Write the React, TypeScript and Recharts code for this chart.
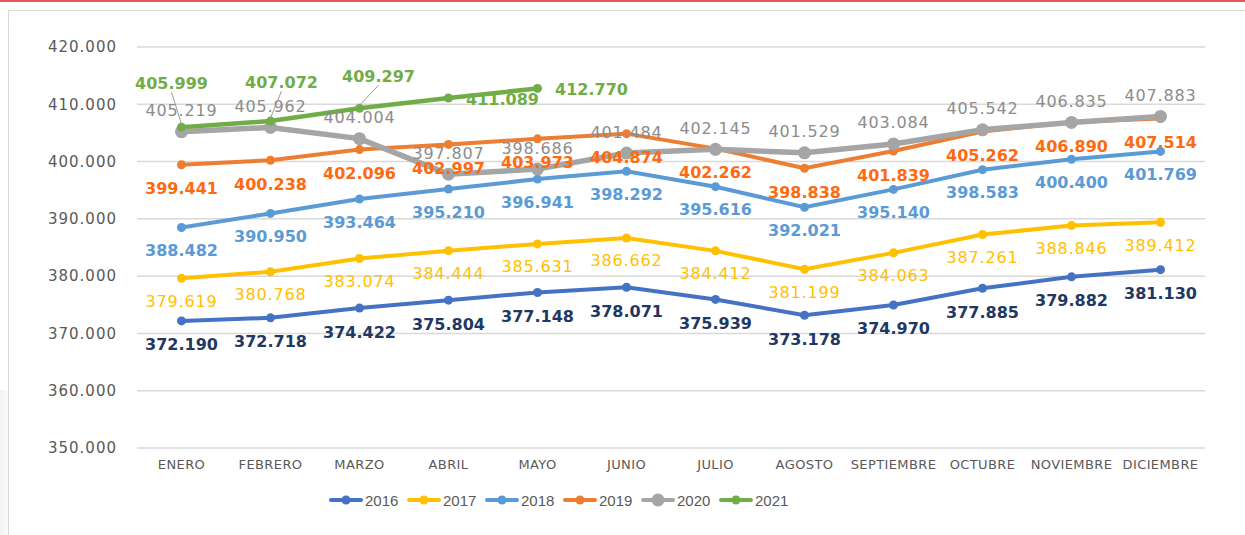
import { LineChart, Line, XAxis, YAxis, CartesianGrid, Legend, LabelList } from "recharts";

const months = [
  "ENERO", "FEBRERO", "MARZO", "ABRIL", "MAYO", "JUNIO",
  "JULIO", "AGOSTO", "SEPTIEMBRE", "OCTUBRE", "NOVIEMBRE", "DICIEMBRE",
];

const y2016 = [372190, 372718, 374422, 375804, 377148, 378071, 375939, 373178, 374970, 377885, 379882, 381130];
const y2017 = [379619, 380768, 383074, 384444, 385631, 386662, 384412, 381199, 384063, 387261, 388846, 389412];
const y2018 = [388482, 390950, 393464, 395210, 396941, 398292, 395616, 392021, 395140, 398583, 400400, 401769];
const y2019 = [399441, 400238, 402096, 402997, 403973, 404874, 402262, 398838, 401839, 405262, 406890, 407514];
const y2020 = [405219, 405962, 404004, 397807, 398686, 401484, 402145, 401529, 403084, 405542, 406835, 407883];
const y2021 = [405999, 407072, 409297, 411089, 412770];

const yTicks = [350000, 360000, 370000, 380000, 390000, 400000, 410000, 420000];

// label placement for 2021 (first three use leader lines, as in the original)
const offsets2021 = [
  { dx: -10, dy: -44, lead: true },
  { dx: 11, dy: -39, lead: true },
  { dx: 19, dy: -32, lead: true },
  { dx: 54, dy: 1, lead: false },
  { dx: 54, dy: 1, lead: false },
];

const FONT = "'DejaVu Sans', Verdana, sans-serif";

const fmt = (v: number) => Math.round(v).toString().replace(/\B(?=(\d{3})+(?!\d))/g, ".");

const series = [
  { key: "2016", values: y2016, color: "#4472C4", text: "#1F3864", bold: true, dy: 24, w: 4, r: 4.5 },
  { key: "2017", values: y2017, color: "#FFC000", text: "#FFC000", bold: false, dy: 23, w: 4, r: 4.5 },
  { key: "2018", values: y2018, color: "#5B9BD5", text: "#5B9BD5", bold: true, dy: 23, w: 4, r: 4.5 },
  { key: "2019", values: y2019, color: "#ED7D31", text: "#FF6A10", bold: true, dy: 24, w: 4, r: 4.5 },
  { key: "2020", values: y2020, color: "#A5A5A5", text: "#8C8C8C", bold: false, dy: -21, w: 5.5, r: 6.5 },
  { key: "2021", values: y2021, color: "#70AD47", text: "#70AD47", bold: true, dy: 0, w: 4.5, r: 4.5 },
];

const data = months.map((m, i) => {
  const row: Record<string, any> = { month: m };
  series.forEach((s) => {
    row[s.key] = s.values[i];
  });
  return row;
});

function makeLabel(s: typeof series[number]) {
  return (props: any) => {
    const x = props.x ?? props.viewBox?.x;
    const y = props.y ?? props.viewBox?.y;
    const { value, index } = props;
    if (value == null || x == null || y == null) return null;
    const textProps = {
      fill: s.text,
      fontSize: 16,
      fontWeight: s.bold ? 700 : 400,
      fontFamily: FONT,
      letterSpacing: s.bold ? 0 : 0.8,
      textAnchor: "middle" as const,
      dominantBaseline: "central" as const,
    };
    if (s.key === "2021") {
      const o = offsets2021[index];
      if (!o) return null;
      return (
        <g>
          {o.lead && (
            <line x1={x + o.dx} y1={y + o.dy + 9} x2={x} y2={y - 3} stroke="#999" strokeWidth={1} />
          )}
          <text x={x + o.dx} y={y + o.dy} {...textProps}>{fmt(value)}</text>
        </g>
      );
    }
    return (
      <text x={x} y={y + s.dy} {...textProps}>{fmt(value)}</text>
    );
  };
}

function LegendBox() {
  return (
    <div style={{ display: "flex", paddingLeft: 329, height: 30, alignItems: "center" }}>
      {series.map((s) => (
        <div key={s.key} style={{ display: "flex", alignItems: "center", width: 78 }}>
          <svg width={34} height={16}>
            <line x1={2} y1={8} x2={32} y2={8} stroke={s.color} strokeWidth={4} strokeLinecap="round" />
            <circle cx={17} cy={8} r={s.r} fill={s.color} />
          </svg>
          <span style={{ marginLeft: 2, fontFamily: "'Liberation Sans', Arial, sans-serif", fontSize: 15, color: "#595959" }}>
            {s.key}
          </span>
        </div>
      ))}
    </div>
  );
}

export default function App() {
  return (
    <div style={{ position: "absolute", left: 0, top: 0, width: 1245, height: 535, background: "#fff", overflow: "hidden" }}>
      <div style={{ position: "absolute", left: 0, top: 0, width: 1245, height: 2, background: "#E8525A" }} />
      <div
        style={{
          position: "absolute", left: 8, top: 10, width: 1245, height: 535,
          borderTop: "1.5px solid #d9d9d9", borderLeft: "1.5px solid #d9d9d9",
        }}
      />
      <div
        style={{
          position: "absolute", left: 0, top: 390, width: 8, height: 145,
          background: "linear-gradient(to right, #f2f2f2, #fafafa)",
        }}
      />
      <div style={{ position: "absolute", left: 0, top: 0 }}>
        <LineChart width={1245} height={535} data={data} margin={{ top: 47, right: 40, bottom: 20, left: 0 }}>
          <CartesianGrid vertical={false} stroke="#d9d9d9" strokeWidth={1.5} />
          <XAxis
            dataKey="month"
            axisLine={false}
            tickLine={false}
            tickSize={0}
            tickMargin={12}
            height={37}
            interval={0}
            padding={{ left: 44.5, right: 44.5 }}
            tick={{ fill: "#595959", fontSize: 13, fontFamily: FONT, letterSpacing: 0.4 }}
          />
          <YAxis
            domain={[350000, 420000]}
            ticks={yTicks}
            width={137}
            axisLine={false}
            tickLine={false}
            tickSize={0}
            tickMargin={20}
            tickFormatter={fmt}
            tick={{ fill: "#595959", fontSize: 15, fontFamily: FONT, letterSpacing: 1 }}
          />
          <Legend verticalAlign="bottom" height={30} content={() => <LegendBox />} />
          {series.map((s) => (
            <Line
              key={s.key}
              dataKey={s.key}
              stroke={s.color}
              strokeWidth={s.w}
              dot={{ r: s.r, fill: s.color, stroke: s.color, strokeWidth: 0 }}
              activeDot={false}
              isAnimationActive={false}
            >
              <LabelList dataKey={s.key} content={makeLabel(s)} />
            </Line>
          ))}
        </LineChart>
      </div>
    </div>
  );
}
